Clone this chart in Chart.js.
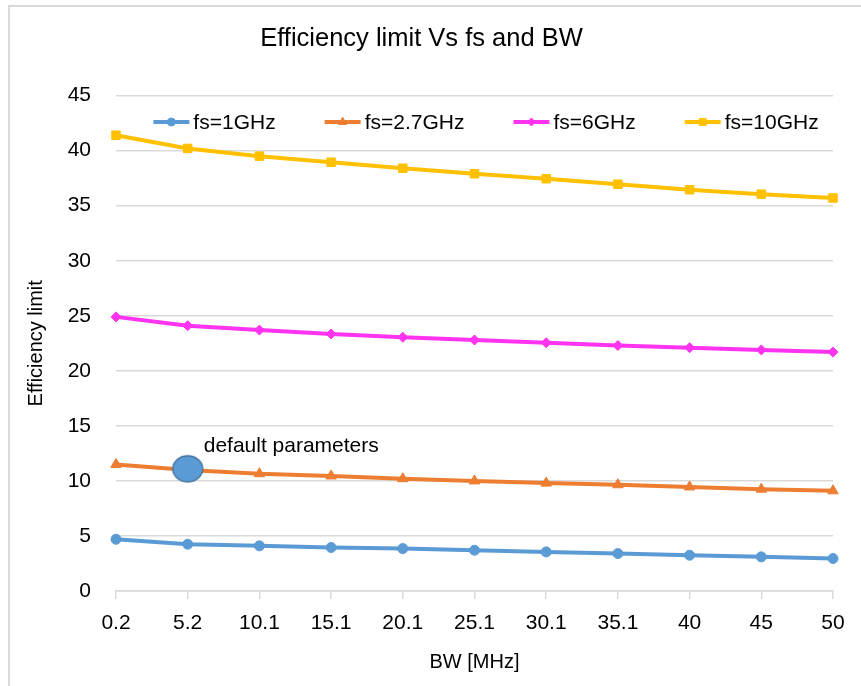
<!DOCTYPE html>
<html>
<head>
<meta charset="utf-8">
<script src="https://cdn.jsdelivr.net/npm/chart.js@4.4.0/dist/chart.umd.min.js"></script>
<style>
  html, body { margin: 0; padding: 0; background: #fff; }
  #wrap { position: relative; width: 861px; height: 686px; overflow: hidden; }
  #frame { position: absolute; left: 8px; top: 5px; width: 900px; height: 700px;
           border-top: 2px solid #d9d9d9; border-left: 2px solid #d9d9d9; }
  canvas { position: absolute; left: 0; top: 0; }
</style>
</head>
<body>
<div id="wrap">
  <div id="frame"></div>
  <canvas id="chart" width="861" height="686"></canvas>
</div>
<script>
// data
var bwLabels = ['0.2', '5.2', '10.1', '15.1', '20.1', '25.1', '30.1', '35.1', '40', '45', '50'];
var fs1 = [4.7, 4.25, 4.1, 3.95, 3.85, 3.7, 3.55, 3.4, 3.25, 3.1, 2.95];
var fs27 = [11.5, 11.0, 10.65, 10.45, 10.2, 10.0, 9.8, 9.65, 9.45, 9.25, 9.1];
var fs6 = [24.9, 24.1, 23.7, 23.35, 23.05, 22.8, 22.55, 22.3, 22.1, 21.9, 21.7];
var fs10 = [41.4, 40.2, 39.5, 38.95, 38.4, 37.9, 37.45, 36.95, 36.45, 36.05, 35.7];
var defaultPoint = [null, 11.1, null, null, null, null, null, null, null, null, null];
var defaultText = 'default parameters';

var fontFam = '"Liberation Sans", Arial, sans-serif';

// ellipse used as point style for the "default parameters" marker
function makeEllipse() {
    var c = document.createElement('canvas');
    c.width = 34; c.height = 30;
    var g = c.getContext('2d');
    g.beginPath();
    g.ellipse(17, 15, 15, 13, 0, 0, Math.PI * 2);
    g.fillStyle = '#5b9bd5';
    g.fill();
    g.lineWidth = 1.3;
    g.strokeStyle = '#41719c';
    g.stroke();
    return c;
}

function series(label, data, color, style, radius) {
    return {
        label: label,
        data: data,
        borderColor: color,
        backgroundColor: color,
        borderWidth: 4,
        pointStyle: style,
        pointRadius: radius,
        pointBorderWidth: 1,
        tension: 0,
        order: 1
    };
}

// legend drawn inside the plot area, like the Excel one
var insideLegend = {
    id: 'insideLegend',
    afterDraw: function (chart) {
        var ctx = chart.ctx;
        var items = chart.data.datasets.slice(0, 4);
        ctx.save();
        ctx.font = '21px ' + fontFam;
        var lineLen = 36, gap = 4, itemGap = 49;
        var total = 0;
        items.forEach(function (ds, i) {
            total += lineLen + gap + ctx.measureText(ds.label).width;
            if (i < items.length - 1) total += itemGap;
        });
        var x = 486 - total / 2;
        var y = 122;
        items.forEach(function (ds) {
            ctx.strokeStyle = ds.borderColor;
            ctx.lineWidth = 4;
            ctx.beginPath();
            ctx.moveTo(x, y);
            ctx.lineTo(x + lineLen, y);
            ctx.stroke();
            ctx.fillStyle = ds.borderColor;
            ctx.lineWidth = 1;
            Chart.helpers.drawPoint(ctx, {
                pointStyle: ds.pointStyle,
                radius: ds.pointRadius * 0.8,
                rotation: 0,
                borderWidth: 1
            }, x + lineLen / 2, y);
            ctx.fillStyle = '#000';
            ctx.textBaseline = 'middle';
            ctx.textAlign = 'left';
            x += lineLen + gap;
            ctx.fillText(ds.label, x, y + 1);
            x += ctx.measureText(ds.label).width + itemGap;
        });
        ctx.restore();
    }
};

// text next to the default marker
var markerText = {
    id: 'markerText',
    afterDatasetsDraw: function (chart) {
        var meta = chart.getDatasetMeta(4);
        var pt = meta.data[1];
        if (!pt) return;
        var ctx = chart.ctx;
        ctx.save();
        ctx.font = '21px ' + fontFam;
        ctx.fillStyle = '#000';
        ctx.textBaseline = 'alphabetic';
        ctx.fillText(defaultText, pt.x + 16, pt.y - 17);
        ctx.restore();
    }
};

var datasets = [
    series('fs=1GHz', fs1, '#5b9bd5', 'circle', 5),
    series('fs=2.7GHz', fs27, '#ed7d31', 'triangle', 6),
    series('fs=6GHz', fs6, '#ff33f0', 'rectRot', 5),
    series('fs=10GHz', fs10, '#ffc000', 'rect', 6),
    {
        label: 'default',
        data: defaultPoint,
        showLine: false,
        pointStyle: makeEllipse(),
        pointRadius: 15,
        order: 0
    }
];

var ctx = document.getElementById('chart').getContext('2d');
var chart = new Chart(ctx, {
    type: 'line',
    data: { labels: bwLabels, datasets: datasets },
    plugins: [insideLegend, markerText],
    options: {
        responsive: false,
        animation: false,
        layout: { padding: { left: 10, right: 28, top: 0, bottom: 0 } },
        plugins: {
            legend: { display: false },
            tooltip: { enabled: false },
            title: {
                display: true,
                text: 'Efficiency limit Vs fs and BW',
                color: '#000',
                font: { family: fontFam, size: 25.5, weight: 'normal' },
                padding: { top: 24, bottom: 41 }
            }
        },
        scales: {
            x: {
                offset: false,
                afterFit: function (s) { s.height = 95; },
                grid: { drawOnChartArea: false, drawTicks: true, tickLength: 8, color: '#d9d9d9', lineWidth: 1.5 },
                border: { display: true, color: '#d9d9d9', width: 1.5 },
                ticks: { color: '#000', padding: 12, maxRotation: 0, font: { family: fontFam, size: 21 } },
                title: {
                    display: true, text: 'BW [MHz]', color: '#000',
                    font: { family: fontFam, size: 20 },
                    padding: { top: 0, bottom: 12 }
                }
            },
            y: {
                min: 0, max: 45,
                afterFit: function (s) { s.width = 106; },
                grid: { drawTicks: false, color: '#d9d9d9', lineWidth: 1.5 },
                border: { display: false },
                ticks: { stepSize: 5, color: '#000', padding: 25, font: { family: fontFam, size: 21 } },
                title: {
                    display: true, text: 'Efficiency limit', color: '#000',
                    font: { family: fontFam, size: 20 },
                    padding: { top: 14, bottom: 0 }
                }
            }
        }
    }
});
</script>
</body>
</html>
